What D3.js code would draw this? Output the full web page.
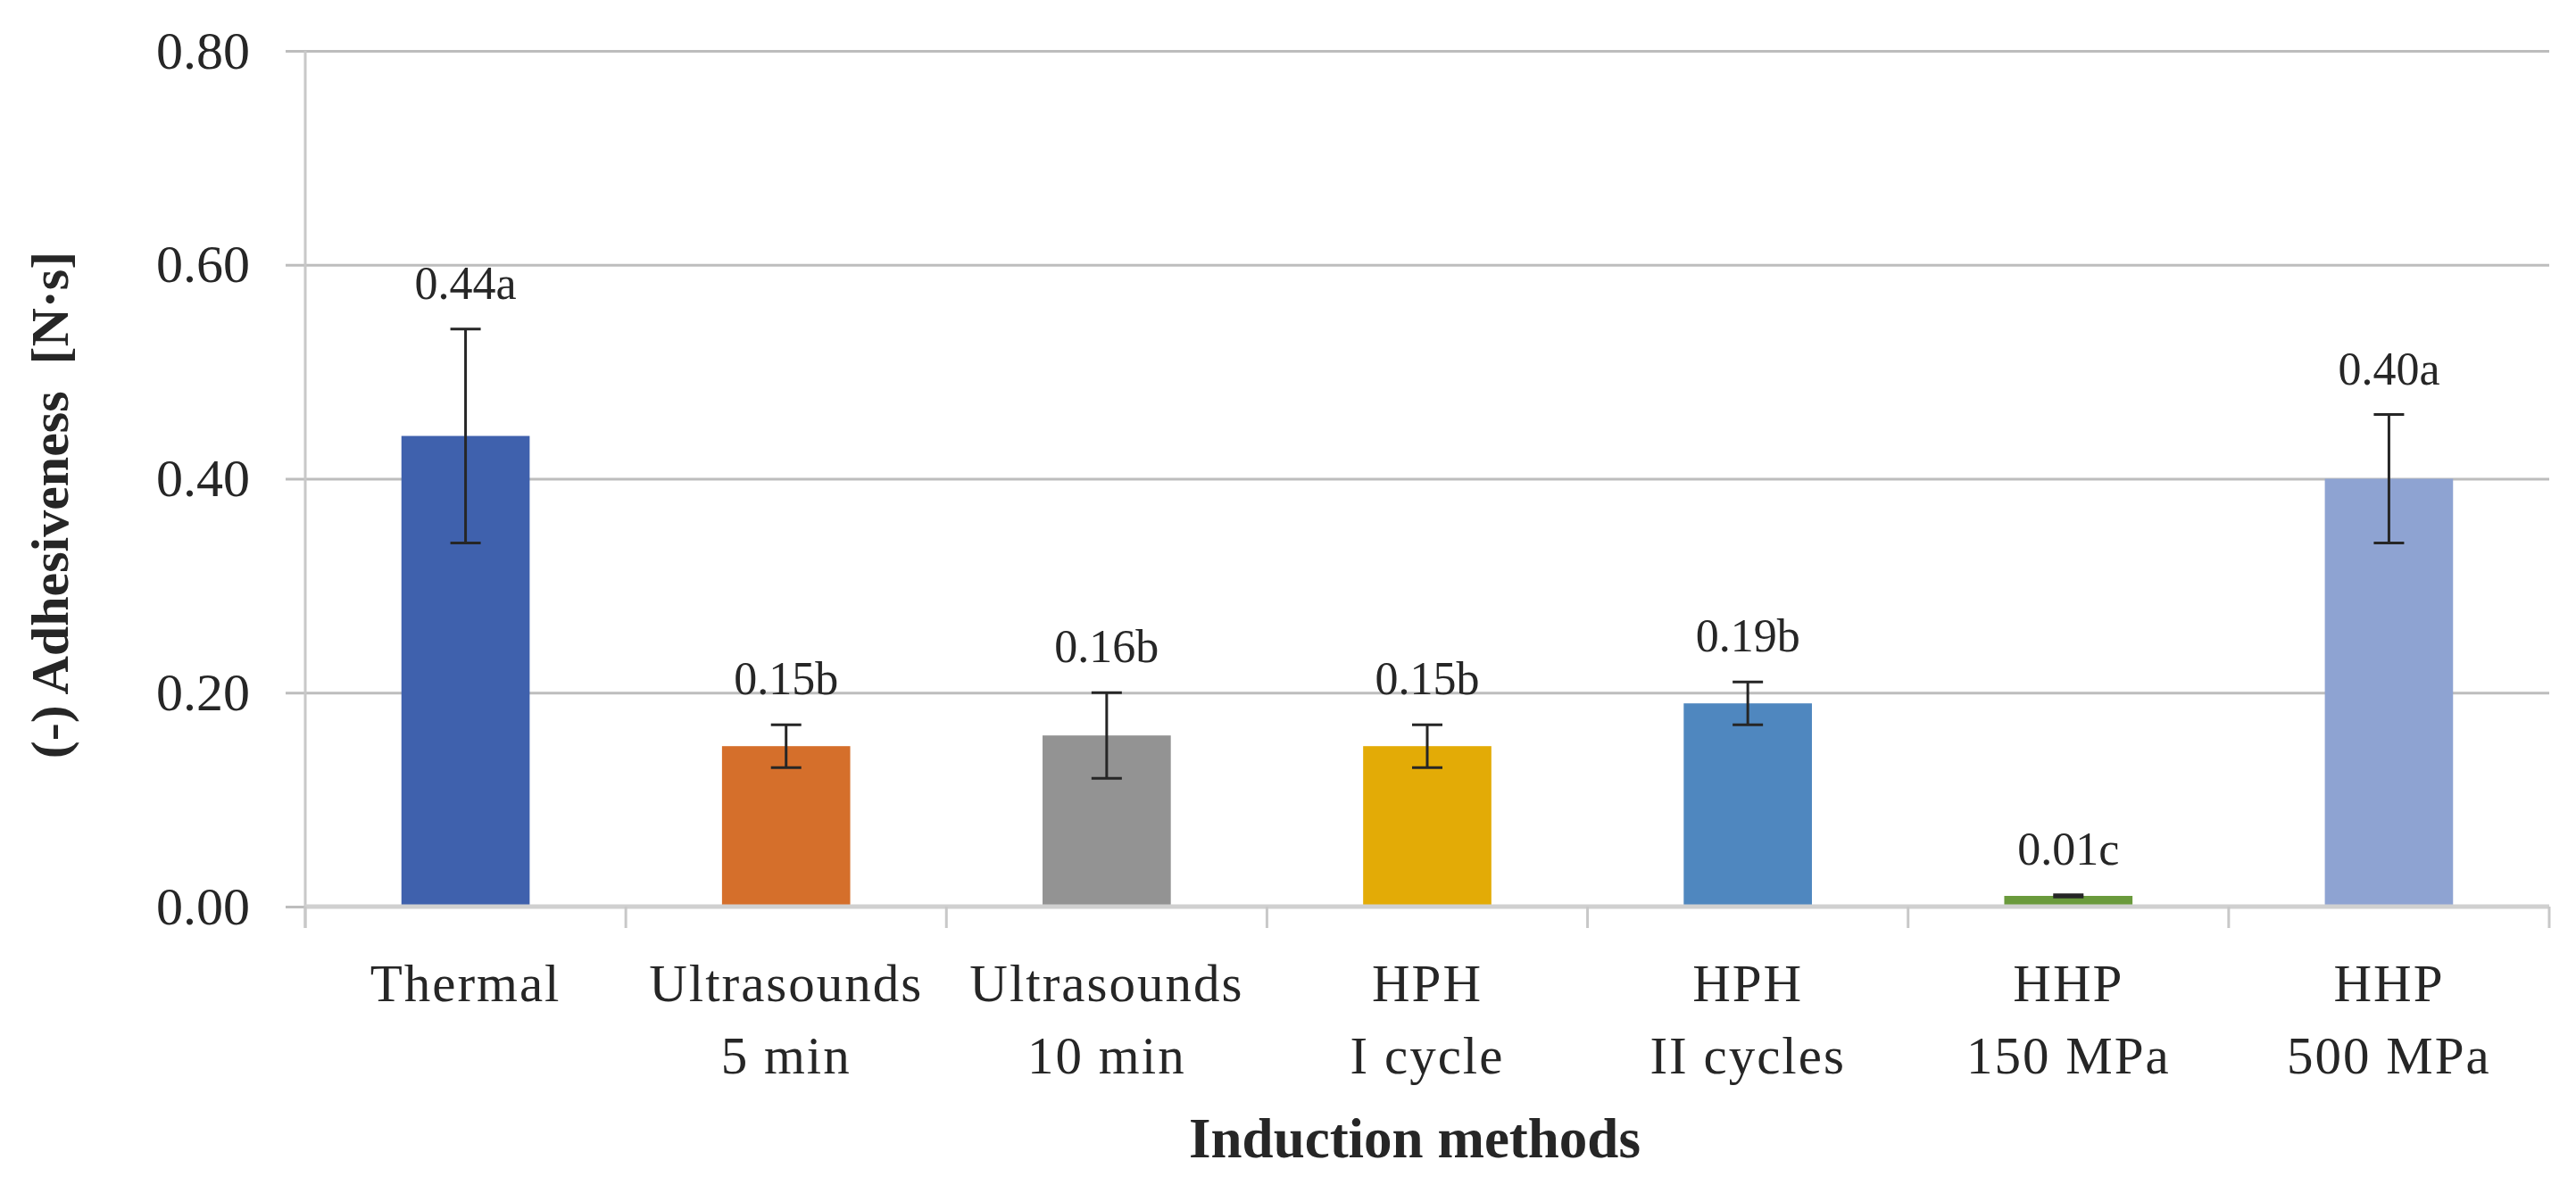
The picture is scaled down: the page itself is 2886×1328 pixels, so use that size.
<!DOCTYPE html>
<html>
<head>
<meta charset="utf-8">
<script src="https://cdn.jsdelivr.net/npm/d3@7"></script>
<style>
  body { margin: 0; background: #fff; }
  text { font-family: 'Liberation Serif', serif; fill: #262626; }
</style>
</head>
<body>
<svg id="chart"></svg>
<script>
// Chart values
const categories = [
  'Thermal',
  'Ultrasounds\n5 min',
  'Ultrasounds\n10 min',
  'HPH\nI cycle',
  'HPH\nII cycles',
  'HHP\n150 MPa',
  'HHP\n500 MPa'
];
const means = [0.44, 0.15, 0.16, 0.15, 0.19, 0.01, 0.40];
const errors = [0.10, 0.02, 0.04, 0.02, 0.02, 0.001, 0.06];
const letters = ['a', 'b', 'b', 'b', 'b', 'c', 'a'];
const yTicks = [0, 0.2, 0.4, 0.6, 0.8];

const barColors = ['#3f61ad', '#d56f2b', '#939393', '#e3ab06', '#4f87bf', '#6a9a3c', '#8ea3d2'];

const w = 2886;
const h = 1328;
const plotLeft = 342;
const plotRight = 2856;
const plotTop = 57;
const plotBottom = 1016;

const svg = d3.select('#chart').attr('width', w).attr('height', h);

const x = d3.scaleBand()
  .domain(categories)
  .range([plotLeft, plotRight])
  .paddingInner(0.6)
  .paddingOuter(0.3);

const y = d3.scaleLinear().domain([0, 0.8]).range([plotBottom, plotTop]);

// Gridlines + y labels (the gridlines poke out left as tick marks)
const yAxis = svg.append('g')
  .attr('transform', 'translate(320,0)')
  .call(d3.axisLeft(y)
    .tickValues(yTicks)
    .tickSize(-(plotRight - 320))
    .tickPadding(40)
    .tickFormat(d3.format('.2f')));
yAxis.select('.domain').remove();
yAxis.selectAll('.tick line').attr('stroke', '#bdbdbd').attr('stroke-width', 3);
yAxis.selectAll('.tick text').attr('font-size', 60).attr('fill', '#262626')
  .style('font-family', "'Liberation Serif', serif");

// vertical axis line
svg.append('line')
  .attr('x1', plotLeft).attr('x2', plotLeft)
  .attr('y1', plotTop).attr('y2', plotBottom + 24)
  .attr('stroke', '#c8c8c8').attr('stroke-width', 3);

// Bars
svg.selectAll('rect.bar')
  .data(means)
  .enter()
  .append('rect')
  .attr('class', 'bar')
  .attr('x', (d, i) => x(categories[i]))
  .attr('y', (d) => y(d))
  .attr('width', x.bandwidth())
  .attr('height', (d) => y(0) - y(d))
  .attr('fill', (d, i) => barColors[i]);

// x axis line and category boundary ticks
svg.append('line')
  .attr('x1', plotLeft).attr('x2', plotRight)
  .attr('y1', y(0)).attr('y2', y(0))
  .attr('stroke', '#d0d0d0').attr('stroke-width', 5);

svg.selectAll('line.xtick')
  .data(d3.range(categories.length + 1))
  .enter()
  .append('line')
  .attr('class', 'xtick')
  .attr('x1', (i) => x.range()[0] + i * x.step())
  .attr('x2', (i) => x.range()[0] + i * x.step())
  .attr('y1', y(0))
  .attr('y2', y(0) + 24)
  .attr('stroke', '#c8c8c8')
  .attr('stroke-width', 3);

// Error bars
const cx = (i) => x(categories[i]) + x.bandwidth() / 2;
const capW = 34;
const err = svg.append('g').attr('stroke', '#262626').attr('stroke-width', 3);
means.forEach((m, i) => {
  const hi = y(m + errors[i]);
  const lo = y(m - errors[i]);
  err.append('line').attr('x1', cx(i)).attr('x2', cx(i)).attr('y1', hi).attr('y2', lo);
  err.append('line').attr('x1', cx(i) - capW / 2).attr('x2', cx(i) + capW / 2).attr('y1', hi).attr('y2', hi);
  err.append('line').attr('x1', cx(i) - capW / 2).attr('x2', cx(i) + capW / 2).attr('y1', lo).attr('y2', lo);
});

// Value labels with letters
svg.selectAll('text.vlabel')
  .data(means)
  .enter()
  .append('text')
  .attr('class', 'vlabel')
  .attr('x', (d, i) => cx(i))
  .attr('y', (d, i) => y(d + errors[i]) - 34)
  .attr('text-anchor', 'middle')
  .attr('font-size', 52)
  .text((d, i) => d.toFixed(2) + letters[i]);

// Category labels, two lines each
const xAxis = svg.append('g')
  .attr('transform', `translate(0,${y(0)})`)
  .call(d3.axisBottom(x).tickSize(0).tickFormat(''));
xAxis.select('.domain').remove();
xAxis.selectAll('.tick').each(function (d) {
  const t = d3.select(this).append('text')
    .attr('text-anchor', 'middle')
    .attr('font-size', 59)
    .attr('letter-spacing', 2)
    .attr('fill', '#262626');
  d.split('\n').forEach((line, k) => {
    t.append('tspan').attr('x', 0).attr('y', 106 + k * 81).text(line);
  });
});

// Axis titles
svg.append('text')
  .attr('transform', 'translate(76,566) rotate(-90)')
  .attr('text-anchor', 'middle')
  .attr('font-size', 60)
  .attr('font-weight', 'bold')
  .style('white-space', 'pre')
  .text('(-) Adhesiveness  [N·s]');

svg.append('text')
  .attr('x', 1585)
  .attr('y', 1297)
  .attr('text-anchor', 'middle')
  .attr('font-size', 63)
  .attr('font-weight', 'bold')
  .text('Induction methods');
</script>
</body>
</html>
